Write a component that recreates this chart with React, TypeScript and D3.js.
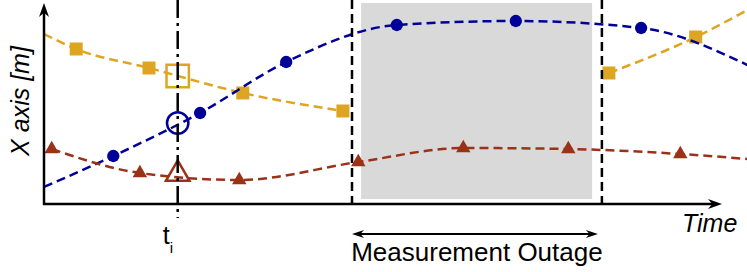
import React, { useEffect, useRef } from "react";
import * as d3 from "d3";

const width = 747;
const height = 272;

// times and positions (arbitrary units)
const blueTimes = [0, 9.9, 22.3, 34.6, 50.4, 67.4, 85.3, 100.5];
const blueValues = [8.5, 24, 45.5, 71, 89.5, 91.5, 88, 69.5];
const blueMarked = [false, true, true, true, true, true, true, false];

const yellowBeforeTimes = [0, 4.6, 15, 28.4, 42.7];
const yellowBeforeValues = [85, 77.5, 68, 55.5, 46.5];
const yellowBeforeMarked = [false, true, true, true, true];

const yellowAfterTimes = [80.7, 93.1, 100.5];
const yellowAfterValues = [65.5, 83.5, 97];
const yellowAfterMarked = [true, true, false];

const brownTimes = [1.1, 13.7, 27.9, 44.9, 59.9, 74.9, 90.9, 100.5];
const brownValues = [27.5, 15.5, 12, 21, 28, 27.5, 25, 22.5];
const brownMarked = [true, true, true, true, true, true, true, false];

const tI = 19.1;
const estimateValues = { yellow: 64, blue: 40.5, brown: 15 };

const outage = [44, 79.7];
const outageShade = [45.3, 78.3];
const shadeRange = [2.5, 100.5];

const BLUE = "#000099";
const YELLOW = "#DDA521";
const BROWN = "#9A3218";

const Chart = () => {
  const ref = useRef<SVGSVGElement>(null);

  useEffect(() => {
    const svg = d3.select(ref.current);
    svg.selectAll("*").remove();

    const x = d3.scaleLinear().domain([0, 100]).range([44, 744]);
    const y = d3.scaleLinear().domain([0, 100]).range([204, 4]);
    const axisY = y(0);
    const axisEnd = 722;

    // shaded outage band
    svg
      .append("rect")
      .attr("x", x(outageShade[0]))
      .attr("y", y(shadeRange[1]))
      .attr("width", x(outageShade[1]) - x(outageShade[0]))
      .attr("height", y(shadeRange[0]) - y(shadeRange[1]))
      .attr("fill", "#d9d9d9");

    const line = d3
      .line<[number, number]>()
      .x((d) => x(d[0]))
      .y((d) => y(d[1]))
      .curve(d3.curveMonotoneX);

    const drawSeries = (times, values, marked, color, symbolType, size) => {
      const pts = times.map((t, i) => [t, values[i]] as [number, number]);
      svg
        .append("path")
        .attr("d", line(pts))
        .attr("fill", "none")
        .attr("stroke", color)
        .attr("stroke-width", 2.5)
        .attr("stroke-dasharray", "9,5");
      svg
        .append("g")
        .selectAll("path")
        .data(pts.filter((d, i) => marked[i]))
        .enter()
        .append("path")
        .attr("transform", (d) => `translate(${x(d[0])},${y(d[1])})`)
        .attr("d", d3.symbol().type(symbolType).size(size)())
        .attr("fill", color);
    };

    drawSeries(yellowBeforeTimes, yellowBeforeValues, yellowBeforeMarked, YELLOW, d3.symbolSquare, 169);
    drawSeries(yellowAfterTimes, yellowAfterValues, yellowAfterMarked, YELLOW, d3.symbolSquare, 169);
    drawSeries(blueTimes, blueValues, blueMarked, BLUE, d3.symbolCircle, 120);
    drawSeries(brownTimes, brownValues, brownMarked, BROWN, d3.symbolTriangle, 90);

    // open markers at t_i
    const open = [
      { v: estimateValues.yellow, c: YELLOW, s: d3.symbolSquare, size: 500 },
      { v: estimateValues.blue, c: BLUE, s: d3.symbolCircle, size: 360 },
      { v: estimateValues.brown, c: BROWN, s: d3.symbolTriangle, size: 240 },
    ];
    svg
      .append("g")
      .selectAll("path")
      .data(open)
      .enter()
      .append("path")
      .attr("transform", (d) => `translate(${x(tI)},${y(d.v)})`)
      .attr("d", (d) => d3.symbol().type(d.s).size(d.size)())
      .attr("fill", "none")
      .attr("stroke", (d) => d.c)
      .attr("stroke-width", 2.5);

    // outage boundaries
    svg
      .selectAll(".outage")
      .data(outage)
      .enter()
      .append("line")
      .attr("x1", (d) => x(d))
      .attr("x2", (d) => x(d))
      .attr("y1", 0)
      .attr("y2", axisY)
      .attr("stroke", "black")
      .attr("stroke-width", 2.5)
      .attr("stroke-dasharray", "9,5");

    // t_i dash-dot line
    svg
      .append("line")
      .attr("x1", x(tI))
      .attr("x2", x(tI))
      .attr("y1", 0)
      .attr("y2", 218)
      .attr("stroke", "black")
      .attr("stroke-width", 2.5)
      .attr("stroke-dasharray", "18,5,3,5");

    // axes
    const arrow = (tx, ty, angle, len, half) =>
      svg
        .append("path")
        .attr("transform", `translate(${tx},${ty}) rotate(${angle})`)
        .attr("d", `M0,0 L${-len},${-half} L${-len * 0.7},0 L${-len},${half} Z`)
        .attr("fill", "black");

    svg
      .append("line")
      .attr("x1", x(0) - 1)
      .attr("x2", axisEnd - 6)
      .attr("y1", axisY)
      .attr("y2", axisY)
      .attr("stroke", "black")
      .attr("stroke-width", 2.5);
    arrow(axisEnd, axisY, 0, 14, 5);

    svg
      .append("line")
      .attr("x1", x(0))
      .attr("x2", x(0))
      .attr("y1", axisY + 1)
      .attr("y2", 10)
      .attr("stroke", "black")
      .attr("stroke-width", 2.5);
    arrow(x(0), 3, -90, 14, 5);

    // measurement outage arrow
    const ay = 234;
    svg
      .append("line")
      .attr("x1", x(outage[0]) + 5)
      .attr("x2", x(outage[1]) - 9)
      .attr("y1", ay)
      .attr("y2", ay)
      .attr("stroke", "black")
      .attr("stroke-width", 2);
    arrow(x(outage[0]), ay, 180, 12, 4);
    arrow(x(outage[1]) - 4, ay, 0, 12, 4);

    const font = "'Liberation Sans', Arial, sans-serif";

    svg
      .append("text")
      .attr("transform", "translate(29,101) rotate(-90)")
      .attr("text-anchor", "middle")
      .attr("font-family", font)
      .attr("font-style", "italic")
      .attr("font-size", 25)
      .text("X axis [m]");

    svg
      .append("text")
      .attr("x", 682)
      .attr("y", 232)
      .attr("font-family", font)
      .attr("font-style", "italic")
      .attr("font-size", 25)
      .text("Time");

    svg
      .append("text")
      .attr("x", (x(outage[0]) + x(outage[1])) / 2)
      .attr("y", 261)
      .attr("text-anchor", "middle")
      .attr("font-family", font)
      .attr("font-size", 26)
      .text("Measurement Outage");

    const ti = svg
      .append("text")
      .attr("x", x(tI) - 15)
      .attr("y", 244)
      .attr("font-family", font)
      .attr("font-size", 25);
    ti.append("tspan").text("t");
    ti.append("tspan").attr("dy", 9).attr("font-size", 15).text("i");
  }, []);

  return (
    <svg
      ref={ref}
      width={width}
      height={height}
      style={{ position: "fixed", left: 0, top: 0, background: "white" }}
    ></svg>
  );
};

export default function App() {
  return <Chart />;
}
